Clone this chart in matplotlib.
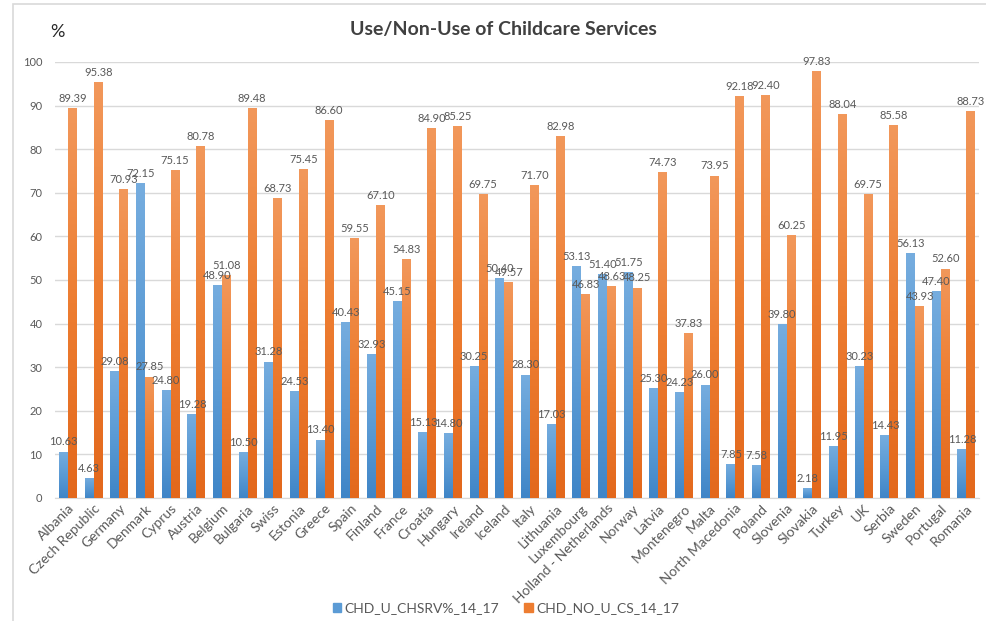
import numpy as np
import matplotlib.pyplot as plt
from matplotlib.patches import Patch, Rectangle
from matplotlib.colors import LinearSegmentedColormap

plt.rcParams["font.family"] = ["Lato", "DejaVu Sans"]

countries = ["Albania", "Czech Republic", "Germany", "Denmark", "Cyprus", "Austria",
             "Belgium", "Bulgaria", "Swiss", "Estonia", "Greece", "Spain", "Finland",
             "France", "Croatia", "Hungary", "Ireland", "Iceland", "Italy", "Lithuania",
             "Luxembourg", "Holland - Netherlands", "Norway", "Latvia", "Montenegro",
             "Malta", "North Macedonia", "Poland", "Slovenia", "Slovakia", "Turkey",
             "UK", "Serbia", "Sweden", "Portugal", "Romania"]

use_cs = [10.63, 4.63, 29.08, 72.15, 24.80, 19.28, 48.90, 10.50, 31.28, 24.53, 13.40,
          40.43, 32.93, 45.15, 15.13, 14.80, 30.25, 50.40, 28.30, 17.03, 53.13, 51.40,
          51.75, 25.30, 24.23, 26.00, 7.85, 7.58, 39.80, 2.18, 11.95, 30.23, 14.43,
          56.13, 47.40, 11.28]

no_use_cs = [89.39, 95.38, 70.93, 27.85, 75.15, 80.78, 51.08, 89.48, 68.73, 75.45, 86.60,
             59.55, 67.10, 54.83, 84.90, 85.25, 69.75, 49.57, 71.70, 82.98, 46.83, 48.63,
             48.25, 74.73, 37.83, 73.95, 92.18, 92.40, 60.25, 97.83, 88.04, 69.75, 85.58,
             43.93, 52.60, 88.73]

series_names = ["CHD_U_CHSRV%_14_17", "CHD_NO_U_CS_14_17"]
y_ticks = list(range(0, 101, 10))

BLUE = "#5B9BD5"
ORANGE = "#ED7D31"
TEXT = "#595959"

blue_grad = LinearSegmentedColormap.from_list("bg", ["#3F85C7", "#5B9BD5", "#76ADDF"])
orange_grad = LinearSegmentedColormap.from_list("og", ["#E3681C", "#ED7D31", "#F2985B"])

fig = plt.figure(figsize=(9.87, 6.21), dpi=100)

# light frame around the chart area
fig.patches.append(Rectangle((13 / 987, -0.05), 1.1, 1 - 4 / 621 + 0.05,
                             transform=fig.transFigure, fill=False,
                             edgecolor="#D9D9D9", linewidth=1.2, zorder=0))

ax = fig.add_axes([55 / 987, 1 - 498 / 621, 924 / 987, 436 / 621])

x = np.arange(len(countries))
w = 0.35
b1 = ax.bar(x - w / 2, use_cs, w, color=BLUE, zorder=3)
b2 = ax.bar(x + w / 2, no_use_cs, w, color=ORANGE, zorder=3)

# vertical gradient fill inside every bar
grad = np.linspace(0, 1, 256).reshape(-1, 1)
for bars, cmap in ((b1, blue_grad), (b2, orange_grad)):
    for rect in bars:
        x0, y0 = rect.get_x(), rect.get_y()
        ww, hh = rect.get_width(), rect.get_height()
        im = ax.imshow(grad, cmap=cmap, origin="lower", aspect="auto",
                       extent=(x0, x0 + ww, y0, y0 + hh), zorder=3.5,
                       interpolation="bilinear")
        im.set_clip_path(rect)

for bars, vals in ((b1, use_cs), (b2, no_use_cs)):
    for rect, v in zip(bars, vals):
        ax.annotate(f"{v:.2f}", (rect.get_x() + rect.get_width() / 2, v),
                    xytext=(0, 3), textcoords="offset points",
                    ha="center", va="bottom", fontsize=8, color=TEXT, zorder=4)

ax.set_xlim(-0.506, len(countries) - 1 + 0.49)
ax.set_ylim(0, 100)
ax.set_yticks(y_ticks)
ax.set_yticklabels([str(t) for t in y_ticks], fontsize=8, color=TEXT)
ax.yaxis.grid(True, color="#D9D9D9", linewidth=1, zorder=0)
ax.set_axisbelow(True)
ax.tick_params(axis="y", length=0, pad=9)
ax.tick_params(axis="x", length=0, pad=3)
ax.set_xticks(x)
ax.set_xticklabels(countries, rotation=45, ha="right", rotation_mode="anchor",
                   fontsize=10, color=TEXT)
for s in ("top", "right", "left"):
    ax.spines[s].set_visible(False)
ax.spines["bottom"].set_color("#D9D9D9")

fig.text(0.51, 1 - 30 / 621, "Use/Non-Use of Childcare Services", ha="center",
         va="center", fontsize=14, fontweight="bold", color="#404040")
fig.text(57 / 987, 1 - 32 / 621, "%", ha="center", va="center", fontsize=13,
         color="#262626")

handles = [Patch(color=BLUE), Patch(color=ORANGE)]
fig.legend(handles, series_names, loc="center", bbox_to_anchor=(506 / 987, 1 - 608 / 621),
           ncol=2, frameon=False, fontsize=10, handlelength=0.6, handleheight=0.6,
           columnspacing=1.8, handletextpad=0.25, labelcolor=TEXT)

fig.savefig("out.png", dpi=100)
